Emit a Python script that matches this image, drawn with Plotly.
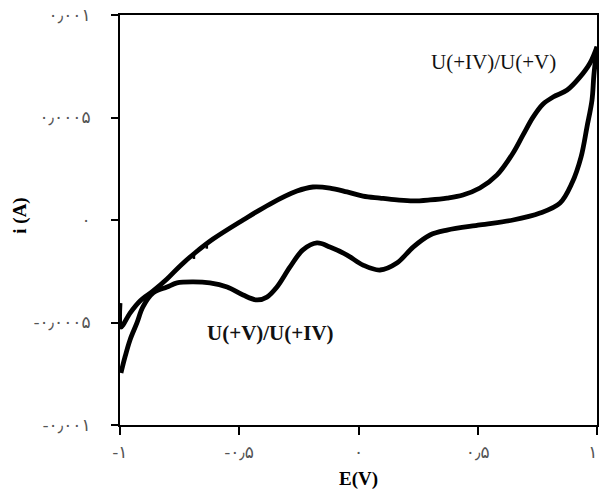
import plotly.graph_objects as go

# Forward (anodic) scan, E in V, i in A
e_fwd = [-1.000, -0.996, -0.958, -0.916, -0.861, -0.803, -0.748, -0.686, -0.610,
         -0.484, -0.371, -0.258, -0.191, -0.120, -0.048, 0.019, 0.090,
         0.161, 0.229, 0.300, 0.371, 0.438, 0.509, 0.581, 0.648, 0.690, 0.732,
         0.774, 0.816, 0.875, 0.929, 0.971, 1.000]
i_fwd = [-4.05e-4, -5.22e-4, -4.54e-4, -3.95e-4, -3.46e-4, -2.88e-4, -2.24e-4,
         -1.61e-4, -0.93e-4, 0.00e-4, 0.78e-4, 1.41e-4, 1.61e-4, 1.56e-4,
         1.37e-4, 1.17e-4, 1.07e-4, 0.98e-4, 0.93e-4, 0.98e-4, 1.07e-4, 1.22e-4,
         1.56e-4, 2.20e-4, 3.27e-4, 4.15e-4, 5.02e-4, 5.66e-4, 6.00e-4, 6.34e-4,
         6.98e-4, 7.66e-4, 8.45e-4]

# Reverse (cathodic) scan
e_rev = [1.000, 0.987, 0.979, 0.958, 0.933, 0.895, 0.845, 0.761, 0.648, 0.509,
         0.371, 0.300, 0.229, 0.161, 0.090, 0.019, -0.048, -0.120, -0.174, -0.233,
         -0.287, -0.342, -0.384, -0.426, -0.484, -0.551, -0.623, -0.694, -0.761,
         -0.803, -0.861, -0.904, -0.929, -0.958, -0.979, -0.996]
i_rev = [8.45e-4, 7.07e-4, 5.85e-4, 4.54e-4, 3.07e-4, 1.80e-4, 0.83e-4, 0.34e-4,
         0.00e-4, -0.24e-4, -0.49e-4, -0.73e-4, -1.32e-4, -2.10e-4, -2.44e-4,
         -2.20e-4, -1.71e-4, -1.32e-4, -1.12e-4, -1.46e-4, -2.29e-4, -3.27e-4,
         -3.76e-4, -3.90e-4, -3.66e-4, -3.27e-4, -3.07e-4, -3.02e-4, -3.07e-4,
         -3.27e-4, -3.56e-4, -4.24e-4, -5.02e-4, -5.85e-4, -6.68e-4, -7.46e-4]

# Small noise spikes on the forward scan
e_spike = [-0.690, -0.690, None, -0.636, -0.636]
i_spike = [-1.62e-4, -1.90e-4, None, -1.17e-4, -1.40e-4]

x_tickvals = [-1, -0.5, 0, 0.5, 1]
x_ticktext = ["-۱", "-۰٫۵", "۰", "۰٫۵", "۱\u00a0\u00a0"]
y_tickvals = [-0.001, -0.0005, 0, 0.0005, 0.001]
y_ticktext = ["-۰٫۰۰۱", "-۰٫۰۰۰۵", "۰", "۰٫۰۰۰۵", "۰٫۰۰۱"]

labels = ["U(+IV)/U(+V)", "<b>U(+V)/U(+IV)</b>"]
label_x = [0.565, -0.368]
label_y = [7.7e-4, -5.5e-4]

serif = "Liberation Serif, DejaVu Sans, serif"

fig = go.Figure()
for ex, iy in [(e_fwd, i_fwd), (e_rev, i_rev)]:
    fig.add_trace(go.Scatter(x=ex, y=iy, mode="lines",
                             line=dict(color="black", width=4.8, shape="spline", smoothing=1.0),
                             hoverinfo="skip", showlegend=False))
fig.add_trace(go.Scatter(x=e_spike, y=i_spike, mode="lines",
                         line=dict(color="black", width=2.5),
                         hoverinfo="skip", showlegend=False))

for t, xx, yy in zip(labels, label_x, label_y):
    fig.add_annotation(x=xx, y=yy, text=t, showarrow=False,
                       font=dict(family=serif, size=21, color="#111"))

fig.add_annotation(x=-0.21, y=0.51, xref="paper", yref="paper", text="<b>i (A)</b>",
                   textangle=-90, showarrow=False, xanchor="center", yanchor="middle",
                   font=dict(family=serif, size=19, color="black"))

fig.update_layout(
    width=599, height=490,
    margin=dict(l=120, r=2, t=15, b=65),
    paper_bgcolor="white", plot_bgcolor="white",
    xaxis=dict(range=[-1, 1], tickvals=x_tickvals, ticktext=x_ticktext,
               showline=True, linecolor="black", linewidth=2, mirror=True,
               ticks="outside", ticklen=8, tickwidth=2, tickcolor="black",
               showgrid=False, zeroline=False, ticklabelstandoff=3,
               ticklabeloverflow="allow", automargin=False,
               tickfont=dict(family=serif, size=17, color="#555"),
               title=dict(text="<b>E(V)</b>", standoff=11,
                          font=dict(family=serif, size=19, color="black"))),
    yaxis=dict(range=[-0.001, 0.001], tickvals=y_tickvals, ticktext=y_ticktext,
               showline=True, linecolor="black", linewidth=2, mirror=True,
               ticks="outside", ticklen=7, tickwidth=2, tickcolor="black",
               showgrid=False, zeroline=False, ticklabelstandoff=17,
               automargin=False,
               tickfont=dict(family=serif, size=17, color="#555")),
)

fig.write_html("out.html", config={"displayModeBar": False},
               post_script="document.body.style.margin='0';")
